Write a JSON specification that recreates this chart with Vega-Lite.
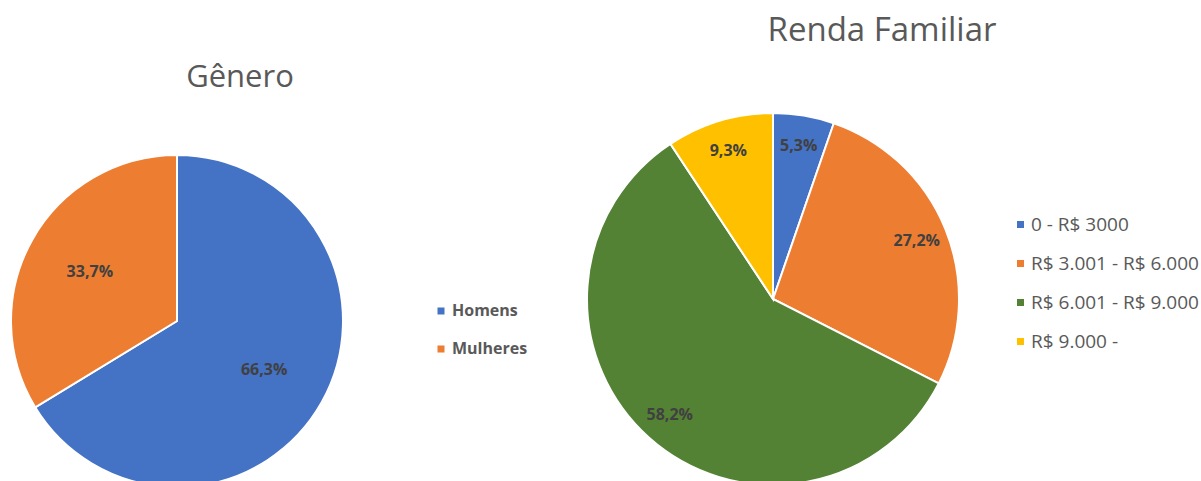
{
  "$schema": "https://vega.github.io/schema/vega-lite/v6.json",
  "autosize": {"type": "pad"},
  "padding": {"left": 0, "top": 15, "right": 0, "bottom": 0},
  "background": "white",
  "bounds": "flush",
  "spacing": 233,
  "resolve": {"scale": {"color": "independent"}, "legend": {"color": "independent"}},
  "config": {
    "view": {"stroke": null},
    "font": "Open Sans",
    "title": {"font": "Open Sans", "fontWeight": "normal", "color": "#595959", "baseline": "alphabetic", "frame": "group", "anchor": "middle"}
  },
  "datasets": {
    "genero": [
      {"categoria": "Homens", "pct": 66.3, "rotulo": "66,3%"},
      {"categoria": "Mulheres", "pct": 33.7, "rotulo": "33,7%"}
    ],
    "renda": [
      {"faixa": "0 - R$ 3000", "pct": 5.3, "rotulo": "5,3%"},
      {"faixa": "R$ 3.001 - R$ 6.000", "pct": 27.2, "rotulo": "27,2%"},
      {"faixa": "R$ 6.001 - R$ 9.000", "pct": 58.2, "rotulo": "58,2%"},
      {"faixa": "R$ 9.000 -", "pct": 9.3, "rotulo": "9,3%"}
    ]
  },
  "hconcat": [
    {
      "width": 354,
      "height": 320,
      "title": {"text": "Gênero", "dx": 63, "offset": 57, "fontSize": 31},
      "data": {"name": "genero"},
      "layer": [
        {
          "mark": {"type": "arc", "outerRadius": 166, "stroke": "white", "strokeWidth": 2},
          "encoding": {
            "theta": {"field": "pct", "type": "quantitative", "stack": true},
            "order": {"field": "categoria", "type": "nominal", "sort": "ascending"},
            "color": {
              "field": "categoria", "type": "nominal",
              "scale": {"domain": ["Homens", "Mulheres"], "range": ["#4472C4", "#ED7D31"]},
              "legend": {
                "title": null, "orient": "none", "legendX": 433, "legendY": 142, "padding": 0,
                "symbolType": "square", "symbolSize": 49, "symbolStrokeWidth": 0,
                "labelFont": "Open Sans", "labelFontSize": 16, "labelFontWeight": "bold", "labelColor": "#595959",
                "rowPadding": 22, "labelOffset": 3
              }
            }
          }
        },
        {
          "mark": {"type": "text", "radius": 100, "font": "Open Sans", "fontSize": 16, "fontWeight": "bold", "fill": "#404040"},
          "encoding": {
            "theta": {"field": "pct", "type": "quantitative", "stack": true},
            "order": {"field": "categoria", "type": "nominal", "sort": "ascending"},
            "text": {"field": "rotulo", "type": "nominal"}
          }
        }
      ]
    },
    {
      "width": 372,
      "height": 276,
      "title": {"text": "Renda Familiar", "dx": 109, "offset": 61, "fontSize": 33},
      "data": {"name": "renda"},
      "layer": [
        {
          "mark": {"type": "arc", "outerRadius": 186, "stroke": "white", "strokeWidth": 2},
          "encoding": {
            "theta": {"field": "pct", "type": "quantitative", "stack": true},
            "order": {"field": "faixa", "type": "nominal", "sort": "ascending"},
            "color": {
              "field": "faixa", "type": "nominal",
              "scale": {"domain": ["0 - R$ 3000", "R$ 3.001 - R$ 6.000", "R$ 6.001 - R$ 9.000", "R$ 9.000 -"], "range": ["#4472C4", "#ED7D31", "#548235", "#FFC000"]},
              "legend": {
                "title": null, "orient": "none", "legendX": 424, "legendY": 54, "padding": 0,
                "symbolType": "square", "symbolSize": 49, "symbolStrokeWidth": 0,
                "labelFont": "Open Sans", "labelFontSize": 19, "labelColor": "#595959",
                "rowPadding": 19, "labelOffset": 1, "labelLimit": 300
              }
            }
          }
        },
        {
          "mark": {"type": "text", "radius": 155, "font": "Open Sans", "fontSize": 16, "fontWeight": "bold", "fill": "#404040"},
          "encoding": {
            "theta": {"field": "pct", "type": "quantitative", "stack": true},
            "order": {"field": "faixa", "type": "nominal", "sort": "ascending"},
            "text": {"field": "rotulo", "type": "nominal"}
          }
        }
      ]
    }
  ]
}
